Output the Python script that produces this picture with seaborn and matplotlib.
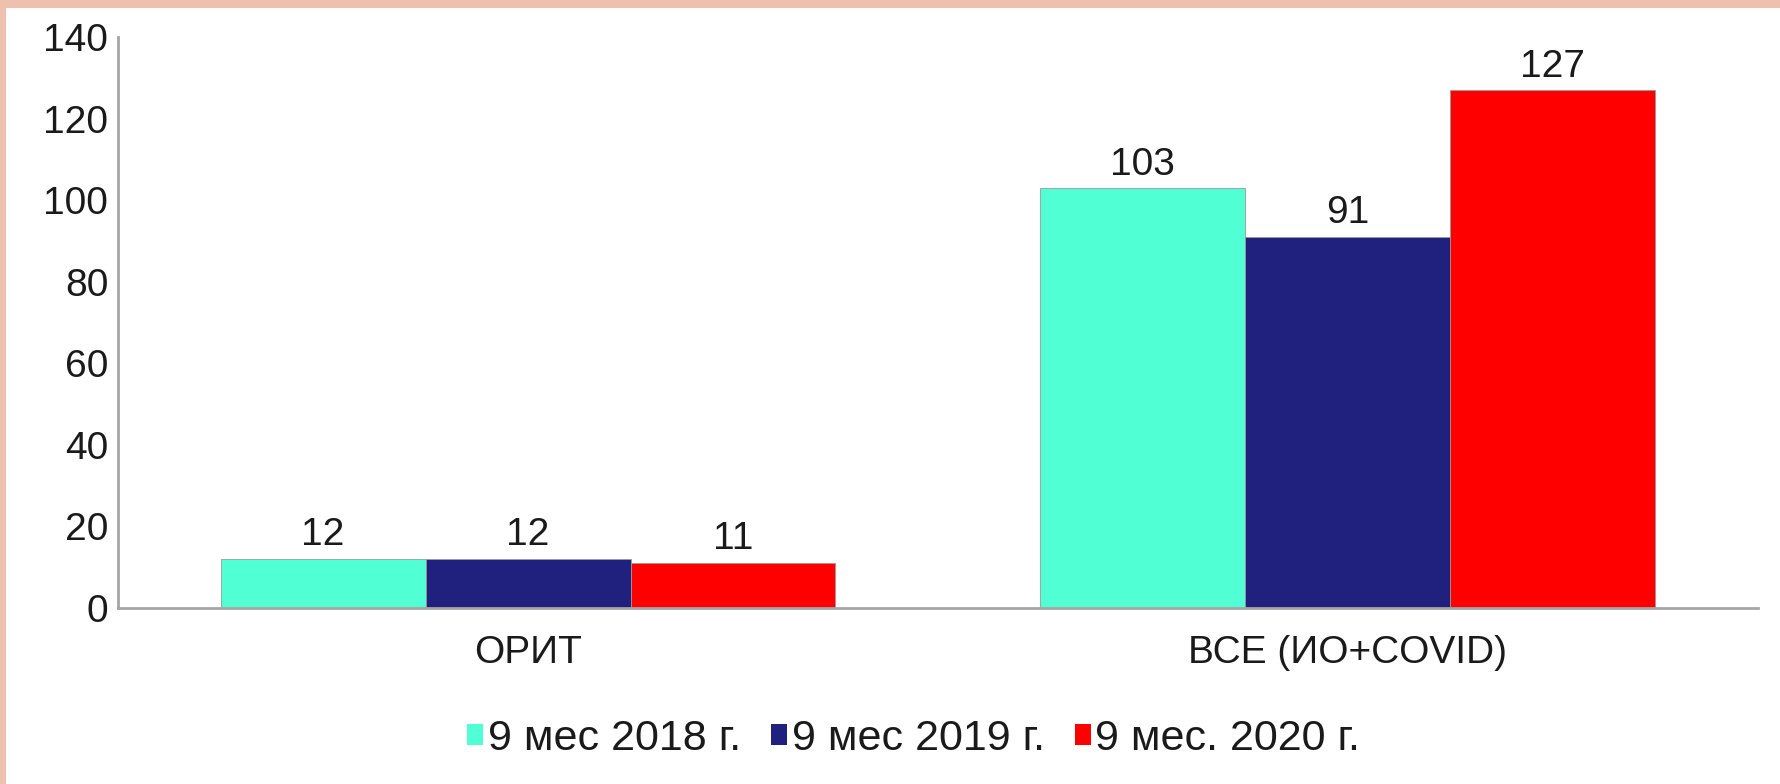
import pandas as pd
import matplotlib.pyplot as plt
import matplotlib.patches as mpatches
import seaborn as sns

# ── DATA ──────────────────────────────────────────────────────────────────────
CATEGORIES = ["ОРИТ", "ВСЕ (ИО+COVID)"]
PERIODS    = ["9 мес 2018 г.", "9 мес 2019 г.", "9 мес. 2020 г."]
VAL_2018   = [12, 103]
VAL_2019   = [12, 91]
VAL_2020   = [11, 127]
YTICKS     = [0, 20, 40, 60, 80, 100, 120, 140]

COLORS = ["#50FFD4", "#20207F", "#FF0000"]
FRAME  = "#F0C0AE"
AXIS   = "#A6A6A6"
TEXT   = "#1A1A1A"

rows = []
for period, vals in zip(PERIODS, [VAL_2018, VAL_2019, VAL_2020]):
    for cat, v in zip(CATEGORIES, vals):
        rows.append({"cat": cat, "period": period, "value": v})
df = pd.DataFrame(rows)

sns.set_style("white")
plt.rcParams["font.family"] = ["Liberation Sans", "DejaVu Sans"]

fig = plt.figure(figsize=(17.81, 7.84), dpi=100, facecolor=FRAME)
# white slide panel on top of the pinkish frame, behind the chart
fig.patches.append(mpatches.Rectangle((6 / 1781, 0), 1, 1 - 8 / 784,
                                      transform=fig.transFigure,
                                      facecolor="white", edgecolor="none", zorder=-10))

ax = fig.add_axes([0.0663, 0.2249, 0.9207, 0.7273])
ax.set_facecolor("white")

sns.barplot(data=df, x="cat", y="value", hue="period", order=CATEGORIES,
            hue_order=PERIODS, palette=COLORS, saturation=1, width=0.75, gap=0,
            edgecolor="#9a9a9a", linewidth=0.6, ax=ax, legend=False)

for cont in ax.containers:
    ax.bar_label(cont, padding=4, fontsize=28, color=TEXT)

ax.set_ylim(0, 140)
ax.set_yticks(YTICKS)
ax.set_xlim(-0.5, 1.5)
ax.set_xlabel("")
ax.set_ylabel("")
ax.tick_params(axis="y", length=0, pad=7, labelsize=28, labelcolor=TEXT)
ax.tick_params(axis="x", length=0, pad=20, labelsize=28, labelcolor=TEXT)

for side in ["top", "right"]:
    ax.spines[side].set_visible(False)
for side in ["left", "bottom"]:
    ax.spines[side].set_color(AXIS)
    ax.spines[side].set_linewidth(2)

handles = [mpatches.Patch(facecolor=c, edgecolor="none", label=p)
           for c, p in zip(COLORS, PERIODS)]
fig.legend(handles=handles, loc="center", bbox_to_anchor=(0.513, 0.057),
           ncol=3, frameon=False, fontsize=31, handlelength=0.38,
           handleheight=0.38, handletextpad=0.1, columnspacing=0.7,
           labelcolor=TEXT)

fig.savefig("out.png", dpi=100, facecolor=FRAME)
